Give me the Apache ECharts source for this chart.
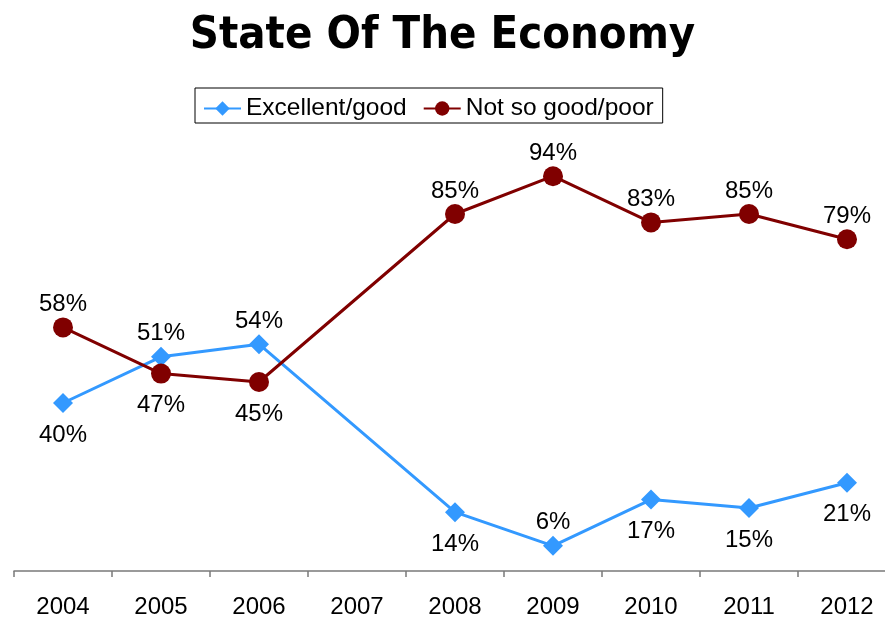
<!DOCTYPE html>
<html>
<head>
<meta charset="utf-8">
<script src="https://cdn.jsdelivr.net/npm/echarts@6/dist/echarts.min.js"></script>
<style>
  html, body { margin: 0; padding: 0; background: #fff; }
  #chart { width: 885px; height: 619px; }
</style>
</head>
<body>
<div id="chart"></div>
<script>
// Survey years on the category axis (2007 has no reading)
const years = ['2004', '2005', '2006', '2007', '2008', '2009', '2010', '2011', '2012'];
// Share of respondents rating the economy, in percent
const excellentGood = [40, 51, 54, null, 14, 6, 17, 15, 21];
const notSoGoodPoor = [58, 47, 45, null, 85, 94, 83, 85, 79];
// Label placement per point: above or below the marker
const excellentGoodLabelPos = ['bottom', 'top', 'top', 'top', 'bottom', 'top', 'bottom', 'bottom', 'bottom'];
const notSoGoodPoorLabelPos = ['top', 'bottom', 'bottom', 'top', 'top', 'top', 'top', 'top', 'top'];

const FONT = '"Liberation Sans", Arial, sans-serif';
const LABEL_GAP = { top: 1, bottom: 10 };

function buildData(values, positions) {
  return values.map((v, i) => ({
    value: v,
    label: { position: positions[i], distance: LABEL_GAP[positions[i]] }
  }));
}

const chart = echarts.init(document.getElementById('chart'), null, { renderer: 'canvas' });

chart.setOption({
  animation: false,
  backgroundColor: '#ffffff',
  title: {
    text: 'State Of The Economy',
    left: 'center',
    top: 9,
    textStyle: {
      fontFamily: '"DejaVu Sans Condensed", "DejaVu Sans", Verdana, sans-serif',
      fontWeight: 'bold',
      fontSize: 45,
      color: '#000'
    }
  },
  legend: {
    left: 195,
    top: 88,
    padding: [8, 9, 2, 8],
    borderColor: '#000',
    borderWidth: 1,
    itemWidth: 37,
    itemHeight: 18,
    itemGap: 16,
    textStyle: { fontFamily: FONT, fontSize: 24.5, color: '#000' },
    data: ['Excellent/good', 'Not so good/poor']
  },
  grid: { left: 14, right: -11, top: 151, bottom: 48, containLabel: false, outerBoundsMode: 'none' },
  xAxis: {
    type: 'category',
    data: years,
    boundaryGap: true,
    axisLine: { lineStyle: { color: '#7a7a7a', width: 1.5 } },
    axisTick: { show: true, length: 6, lineStyle: { color: '#7a7a7a', width: 1.5 } },
    axisLabel: { fontFamily: FONT, fontSize: 24, color: '#000', margin: 24, interval: 0 },
    splitLine: { show: false }
  },
  yAxis: {
    type: 'value',
    min: 0,
    max: 100,
    show: false,
    splitLine: { show: false }
  },
  series: [
    {
      name: 'Excellent/good',
      type: 'line',
      data: buildData(excellentGood, excellentGoodLabelPos),
      connectNulls: true,
      symbol: 'diamond',
      symbolSize: 20,
      itemStyle: { color: '#3399FF' },
      lineStyle: { color: '#3399FF', width: 3 },
      label: {
        show: true,
        formatter: '{c}%',
        fontFamily: FONT,
        fontSize: 24,
        color: '#000'
      }
    },
    {
      name: 'Not so good/poor',
      type: 'line',
      data: buildData(notSoGoodPoor, notSoGoodPoorLabelPos),
      connectNulls: true,
      symbol: 'circle',
      symbolSize: 20,
      itemStyle: { color: '#800000' },
      lineStyle: { color: '#800000', width: 3 },
      label: {
        show: true,
        formatter: '{c}%',
        fontFamily: FONT,
        fontSize: 24,
        color: '#000'
      }
    }
  ]
});
</script>
</body>
</html>
